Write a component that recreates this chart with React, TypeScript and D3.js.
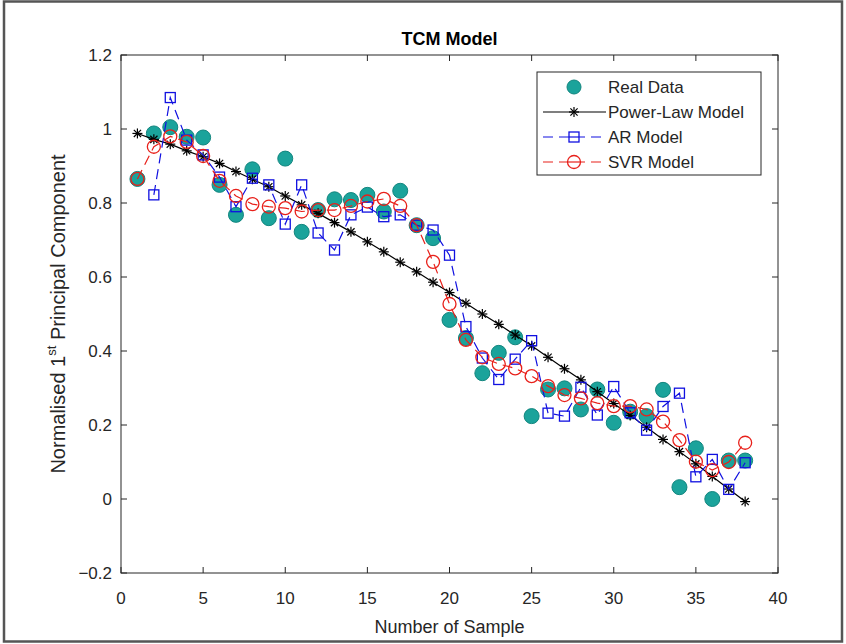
import React from "react";
import * as d3 from "d3";

const samples = d3.range(1, 39);
const realData = [0.865, 0.988, 1.005, 0.979, 0.977, 0.849, 0.768, 0.891, 0.759, 0.92, 0.722, 0.781, 0.81, 0.808, 0.822, 0.777, 0.833, 0.74, 0.705, 0.484, 0.435, 0.34, 0.395, 0.437, 0.224, 0.296, 0.299, 0.242, 0.296, 0.206, 0.236, 0.224, 0.295, 0.032, 0.137, 0.0, 0.104, 0.104];
const powerLaw = [0.988, 0.972, 0.959, 0.941, 0.925, 0.907, 0.885, 0.864, 0.844, 0.819, 0.795, 0.772, 0.747, 0.722, 0.695, 0.668, 0.64, 0.614, 0.586, 0.558, 0.529, 0.5, 0.472, 0.443, 0.414, 0.383, 0.352, 0.322, 0.29, 0.258, 0.226, 0.194, 0.161, 0.128, 0.095, 0.061, 0.027, -0.007];
// AR model starts at sample 2
const arModel = [null, 0.822, 1.085, 0.97, 0.93, 0.87, 0.79, 0.867, 0.849, 0.743, 0.849, 0.719, 0.673, 0.768, 0.789, 0.763, 0.768, 0.74, 0.727, 0.659, 0.466, 0.381, 0.323, 0.378, 0.428, 0.232, 0.224, 0.302, 0.227, 0.304, 0.233, 0.186, 0.25, 0.286, 0.06, 0.107, 0.026, 0.098];
const svrModel = [0.865, 0.952, 0.98, 0.965, 0.927, 0.86, 0.819, 0.797, 0.79, 0.786, 0.777, 0.781, 0.781, 0.792, 0.804, 0.811, 0.792, 0.74, 0.641, 0.527, 0.43, 0.383, 0.365, 0.353, 0.332, 0.305, 0.281, 0.272, 0.259, 0.251, 0.251, 0.242, 0.209, 0.159, 0.101, 0.078, 0.1, 0.152];

const xTicks = [0, 5, 10, 15, 20, 25, 30, 35, 40];
const yTicks = [-0.2, 0, 0.2, 0.4, 0.6, 0.8, 1, 1.2];
const legendLabels = ["Real Data", "Power-Law Model", "AR Model", "SVR Model"];

const W = 846, H = 644;
const left = 121, right = 778, top = 55, bottom = 573;
const font = "Liberation Sans, Arial, Helvetica, sans-serif";
const axisColor = "#262626";
const teal = "#1ba39b", tealEdge = "#12857e";
const blue = "#1010e0", red = "#e8201a";

function Star({ x, y, s = 5 }: { x: number; y: number; s?: number }) {
  const d = s * 0.72;
  return (
    <g stroke="#000" strokeWidth={1.2}>
      <line x1={x - s} y1={y} x2={x + s} y2={y} />
      <line x1={x} y1={y - s} x2={x} y2={y + s} />
      <line x1={x - d} y1={y - d} x2={x + d} y2={y + d} />
      <line x1={x - d} y1={y + d} x2={x + d} y2={y - d} />
    </g>
  );
}

export default function App() {
  const x = d3.scaleLinear().domain([0, 40]).range([left, right]);
  const y = d3.scaleLinear().domain([-0.2, 1.2]).range([bottom, top]);

  const line = d3
    .line<[number, number | null]>()
    .defined((d) => d[1] !== null)
    .x((d) => x(d[0]))
    .y((d) => y(d[1] as number));

  const pl = samples.map((s, i) => [s, powerLaw[i]] as [number, number | null]);
  const ar = samples.map((s, i) => [s, arModel[i]] as [number, number | null]);
  const svr = samples.map((s, i) => [s, svrModel[i]] as [number, number | null]);

  const legX = 537, legY = 72, legW = 224, legH = 103;
  const rowY = (i: number) => legY + 15 + i * 25;
  const mx = 574;

  return (
    <div style={{ position: "absolute", left: 0, top: 0 }}>
      <svg width={W} height={H} style={{ display: "block", background: "#fff" }} fontFamily={font}>
        <rect x={0} y={0} width={W} height={H} fill="#fff" />
        <rect x={4} y={1.5} width={838} height={640} fill="none" stroke="#555" strokeWidth={2.5} />

        {/* axes box */}
        <rect x={left} y={top} width={right - left} height={bottom - top} fill="#fff" stroke={axisColor} strokeWidth={1} />
        {xTicks.map((t) => (
          <g key={"xt" + t}>
            <line x1={x(t)} x2={x(t)} y1={bottom} y2={bottom - 6} stroke={axisColor} />
            <line x1={x(t)} x2={x(t)} y1={top} y2={top + 6} stroke={axisColor} />
            <text x={x(t)} y={604} textAnchor="middle" fontSize={17} fill={axisColor}>{t}</text>
          </g>
        ))}
        {yTicks.map((t) => (
          <g key={"yt" + t}>
            <line x1={left} x2={left + 6} y1={y(t)} y2={y(t)} stroke={axisColor} />
            <line x1={right} x2={right - 6} y1={y(t)} y2={y(t)} stroke={axisColor} />
            <text x={112} y={y(t) + 6} textAnchor="end" fontSize={17} fill={axisColor}>{d3.format("")(+t.toFixed(1))}</text>
          </g>
        ))}

        <text x={(left + right) / 2} y={45} textAnchor="middle" fontSize={18} fontWeight="bold" fill="#000">TCM Model</text>
        <text x={(left + right) / 2} y={633} textAnchor="middle" fontSize={18} fill={axisColor}>Number of Sample</text>
        <text transform={`translate(65,${(top + bottom) / 2}) rotate(-90)`} textAnchor="middle" fontSize={20} fill={axisColor}>
          Normalised 1<tspan fontSize={13} dy={-9}>st</tspan><tspan dy={9}> Principal Component</tspan>
        </text>

        {/* Real data */}
        {samples.map((s, i) => (
          <circle key={"r" + s} cx={x(s)} cy={y(realData[i])} r={7.5} fill={teal} stroke={tealEdge} strokeWidth={1} />
        ))}

        {/* Power-law */}
        <path d={line(pl) || ""} fill="none" stroke="#000" strokeWidth={1.2} />
        {pl.map(([s, v]) => <Star key={"p" + s} x={x(s)} y={y(v as number)} />)}

        {/* AR */}
        <path d={line(ar) || ""} fill="none" stroke={blue} strokeWidth={1.2} strokeDasharray="10,6" />
        {ar.filter((d) => d[1] !== null).map(([s, v]) => (
          <rect key={"a" + s} x={x(s) - 5} y={y(v as number) - 5} width={10} height={10} fill="none" stroke={blue} strokeWidth={1.3} />
        ))}

        {/* SVR */}
        <path d={line(svr) || ""} fill="none" stroke={red} strokeWidth={1.2} strokeDasharray="10,6" />
        {svr.map(([s, v]) => (
          <circle key={"s" + s} cx={x(s)} cy={y(v as number)} r={6.5} fill="none" stroke={red} strokeWidth={1.3} />
        ))}

        {/* legend */}
        <rect x={legX} y={legY} width={legW} height={legH} fill="#fff" stroke={axisColor} strokeWidth={1} />
        <circle cx={mx} cy={rowY(0)} r={7} fill={teal} stroke={tealEdge} />
        <line x1={543} x2={606} y1={rowY(1)} y2={rowY(1)} stroke="#000" strokeWidth={1.2} />
        <Star x={mx} y={rowY(1)} />
        <line x1={543} x2={606} y1={rowY(2)} y2={rowY(2)} stroke={blue} strokeWidth={1.2} strokeDasharray="10,6" />
        <rect x={mx - 5} y={rowY(2) - 5} width={10} height={10} fill="#fff" stroke={blue} strokeWidth={1.3} />
        <line x1={mx - 5} x2={mx + 5} y1={rowY(2)} y2={rowY(2)} stroke={blue} strokeWidth={1.2} />
        <line x1={543} x2={606} y1={rowY(3)} y2={rowY(3)} stroke={red} strokeWidth={1.2} strokeDasharray="10,6" />
        <circle cx={mx} cy={rowY(3)} r={6.5} fill="#fff" stroke={red} strokeWidth={1.3} />
        <line x1={mx - 6.5} x2={mx + 6.5} y1={rowY(3)} y2={rowY(3)} stroke={red} strokeWidth={1.2} />
        {legendLabels.map((l, i) => (
          <text key={l} x={608} y={rowY(i) + 6} fontSize={17} fill={axisColor}>{l}</text>
        ))}
      </svg>
    </div>
  );
}
